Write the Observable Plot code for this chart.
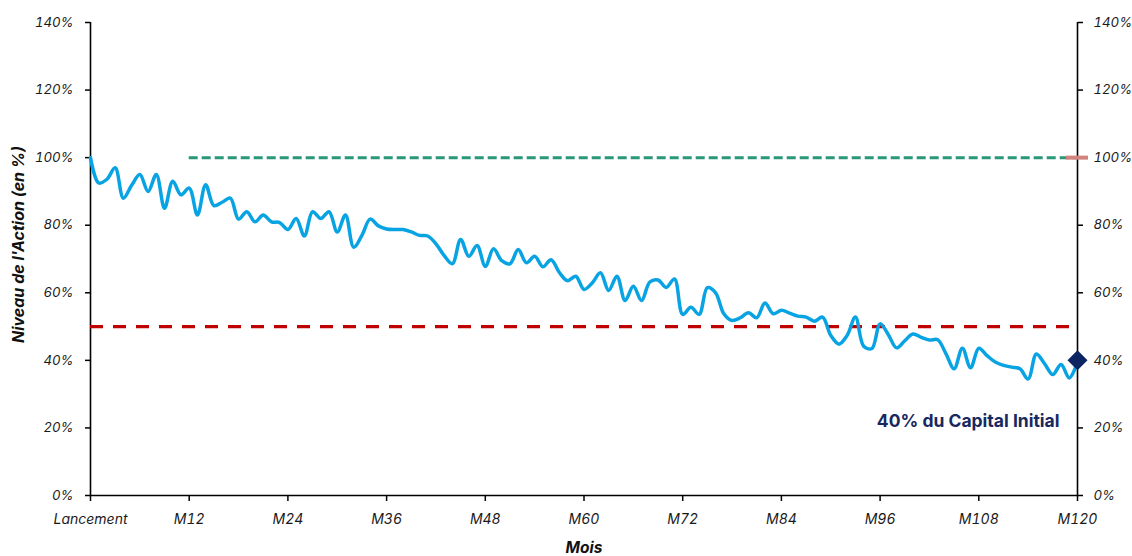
<!DOCTYPE html>
<html>
<head>
<meta charset="utf-8">
<script src="https://cdn.jsdelivr.net/npm/d3@7"></script>
<script src="https://cdn.jsdelivr.net/npm/@observablehq/plot@0.6"></script>
<style>
  html, body { margin: 0; padding: 0; background: #fff; }
</style>
</head>
<body>
<div id="chart"></div>
<script>
// Months since launch (0 = Lancement ... 120 = M120)
const months = d3.range(0, 121);
// Share level in % of initial level
const levels = [
  100, 92.5, 93.6, 97, 88, 91.8, 95, 90, 95, 85,
  93, 89, 91, 83, 92, 85.8, 86.8, 88, 81.8, 84,
  81, 83, 81, 80.8, 78.7, 82, 76.8, 84, 82, 84,
  78, 83, 73.5, 77, 81.8, 79.8, 78.9, 78.7, 78.7, 78,
  77, 76.8, 74.5, 71, 68.6, 75.8, 70.8, 74, 67.8, 73,
  69.5, 68.6, 72.8, 68.9, 70.8, 67.7, 69.8, 66, 63.6, 64.9,
  61, 62.9, 65.9, 60.7, 64.9, 57.7, 61.9, 57.7, 63.2, 63.8,
  61.6, 64.1, 53.6, 55.7, 53.6, 61.5, 60, 53.8, 51.8, 52.6,
  54.1, 52.6, 57, 53.8, 54.8, 54, 53.1, 52.8, 51.6, 52.8,
  47.4, 44.8, 47.4, 52.8, 44.2, 43.5, 50.8, 47.6, 43.7, 45.8,
  47.8, 46.8, 46, 46.1, 42, 37.5, 43.6, 37.8, 43.6, 41.4,
  39.5, 38.5, 38, 37.5, 34.5, 41.9, 39, 35.8, 38.8, 34.8,
  39.5
];
const xTickMonths = [0, 12, 24, 36, 48, 60, 72, 84, 96, 108, 120];
const xTickLabels = ["Lancement", "M12", "M24", "M36", "M48", "M60", "M72", "M84", "M96", "M108", "M120"];
const yTicks = [0, 20, 40, 60, 80, 100, 120, 140];
// Reference levels
const capitalLevel = [{from: 12, to: 120, level: 100}];
const barrierLevel = [{from: 0, to: 120, level: 50}];
const finalPoint = [{month: 120, level: 40}];
const capitalMarker = [{month: 120, level: 100}];
const annotation = [{month: 120, level: 22, text: "40% du Capital Initial"}];

const data = months.map((m, i) => ({month: m, level: levels[i]}));
const labelByMonth = new Map(xTickMonths.map((m, i) => [m, xTickLabels[i]]));

const FONT = "Inter, 'Open Sans', 'DejaVu Sans', sans-serif";

const chart = Plot.plot({
  width: 1132,
  height: 556,
  marginLeft: 90,
  marginRight: 55,
  marginTop: 22,
  marginBottom: 61,
  style: {fontFamily: FONT, fontSize: "14px", color: "#1a1a1a", background: "#fff", overflow: "visible"},
  x: {domain: [0, 120]},
  y: {domain: [0, 140]},
  marks: [
    Plot.axisY({ticks: yTicks, tickFormat: d => d + "%", anchor: "left", tickSize: 5, tickPadding: 12, fontStyle: "italic", fontSize: 13.2, label: null, stroke: "#000", strokeWidth: 1.5}),
    Plot.axisY({ticks: yTicks, tickFormat: d => d + "%", anchor: "right", tickSize: 5, tickPadding: 11, fontStyle: "italic", fontSize: 13.2, label: null, stroke: "#000", strokeWidth: 1.5}),
    Plot.axisX({ticks: xTickMonths, tickFormat: d => labelByMonth.get(d), anchor: "bottom", tickSize: 6, tickPadding: 13, fontStyle: "italic", fontSize: 14, label: null, stroke: "#000", strokeWidth: 1.5}),
    Plot.ruleX([0, 120], {stroke: "#000", strokeWidth: 1.6}),
    Plot.ruleY([0], {stroke: "#000", strokeWidth: 1.6}),
    Plot.ruleY(barrierLevel, {y: "level", x1: "from", x2: "to", stroke: "#c00000", strokeWidth: 3.2, strokeDasharray: "13,10"}),
    Plot.ruleY(capitalLevel, {y: "level", x1: "from", x2: "to", stroke: "#2a9878", strokeWidth: 3, strokeDasharray: "9,4"}),
    Plot.line(data, {x: "month", y: "level", curve: "catmull-rom", stroke: "#08a3e3", strokeWidth: 3.5}),
    Plot.ruleY(capitalMarker, {y: "level", x1: "month", x2: "month", insetLeft: -11, insetRight: -11, stroke: "#d3827d", strokeWidth: 4}),
    Plot.dot(finalPoint, {x: "month", y: "level", symbol: "diamond2", r: 9, fill: "#0c2461", stroke: "none"}),
    Plot.text(annotation, {x: "month", y: "level", text: "text", textAnchor: "end", dx: -18, fill: "#17295f", fontWeight: "bold", fontSize: 17.5, fontFamily: FONT}),
    Plot.text(["Mois"], {frameAnchor: "bottom", textAnchor: "middle", lineAnchor: "middle", dy: 53, fontWeight: "bold", fontStyle: "italic", fontSize: 15.5, fill: "#111"}),
    Plot.text([{t: "Niveau de l'Action (en %)", v: 74.3}], {y: "v", text: "t", frameAnchor: "left", textAnchor: "middle", lineAnchor: "middle", dx: -71.5, rotate: -90, fontWeight: "bold", fontStyle: "italic", fontSize: 16, fill: "#111"})
  ]
});

document.getElementById("chart").appendChild(chart);
</script>
</body>
</html>
